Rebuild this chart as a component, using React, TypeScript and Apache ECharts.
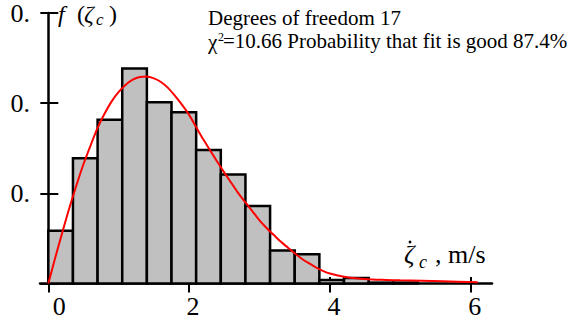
import { useEffect, useRef } from 'react';
import * as echarts from 'echarts';

// Histogram of the measured velocity, bins of equal width starting at 0
const binWidth = 0.35;
const binHeights = [
  0.117, 0.278, 0.363, 0.477, 0.402, 0.38, 0.296, 0.242, 0.172, 0.073, 0.065,
  0.008, 0.012, 0.002, 0.002,
];

// Fitted probability density
const fitZeta = [
  0, 0.1, 0.2, 0.3, 0.4, 0.5, 0.6, 0.7, 0.8, 0.9, 1.0, 1.1, 1.2, 1.3, 1.4, 1.5,
  1.6, 1.7, 1.8, 1.9, 2.0, 2.1, 2.2, 2.3, 2.4, 2.5, 2.6, 2.7, 2.8, 2.9, 3.0,
  3.1, 3.2, 3.3, 3.4, 3.5, 3.6, 3.7, 3.8, 3.9, 4.0, 4.2, 4.4, 4.6, 4.8, 5.0,
  5.3, 5.6, 6.1,
];
const fitDensity = [
  0, 0.058, 0.114, 0.168, 0.218, 0.265, 0.306, 0.345, 0.377, 0.404, 0.425,
  0.441, 0.452, 0.458, 0.459, 0.455, 0.447, 0.434, 0.416, 0.396, 0.374, 0.347,
  0.32, 0.295, 0.27, 0.246, 0.223, 0.2, 0.18, 0.16, 0.14, 0.123, 0.108, 0.093,
  0.08, 0.067, 0.055, 0.045, 0.036, 0.028, 0.022, 0.015, 0.011, 0.009, 0.008,
  0.007, 0.006, 0.005, 0.003,
];

const xTicks = [0, 2, 4, 6];
const xTickLabels = ['0', '2', '4', '6'];
const yTicks = [0, 0.2, 0.4, 0.6];
const yTickLabels = ['', '0.', '0.', '0.'];

const statsLine1 = 'Degrees of freedom 17';
const chiSquare = '10.66';
const fitProbability = '87.4%';

const SERIF = 'Liberation Serif';
const TICK_SIZE = 26;
const NOTE_SIZE = 21;

export default function App() {
  const ref = useRef<HTMLDivElement>(null);

  useEffect(() => {
    if (!ref.current) return;
    const chart = echarts.init(ref.current, undefined, { renderer: 'svg' });

    const bars = binHeights.map((h, i) => [i * binWidth, (i + 1) * binWidth, h]);
    const curve = fitZeta.map((z, i) => [z, fitDensity[i]]);

    const xLabel = (v: number) => {
      const i = xTicks.findIndex((t) => Math.abs(t - v) < 1e-6);
      return i < 0 ? '' : xTickLabels[i];
    };
    const yLabel = (v: number) => {
      const i = yTicks.findIndex((t) => Math.abs(t - v) < 1e-6);
      return i < 0 ? '' : yTickLabels[i];
    };

    const xBase = {
      type: 'value' as const,
      min: -0.118,
      max: 6.302,
      position: 'bottom' as const,
      splitLine: { show: false },
    };
    const yBase = {
      type: 'value' as const,
      min: 0,
      max: 0.6,
      interval: 0.2,
      position: 'left' as const,
      splitLine: { show: false },
    };
    const tickLabelStyle = {
      color: '#000',
      fontSize: TICK_SIZE,
      fontFamily: SERIF,
    };
    const black = '#000';

    const txt = (
      text: string,
      x: number,
      y: number,
      fontSize: number,
      italic = false,
    ) => ({
      type: 'text',
      x,
      y,
      style: {
        text,
        fontSize,
        fontFamily: SERIF,
        fontStyle: italic ? 'italic' : 'normal',
        fill: black,
        align: 'left',
        verticalAlign: 'middle',
      },
    });

    chart.setOption({
      animation: false,
      backgroundColor: '#ffffff',
      textStyle: { fontFamily: SERIF },
      grid: { left: 40, right: 82, top: 13, bottom: 38.5, outerBoundsMode: 'none' },
      xAxis: [
        {
          ...xBase,
          axisLine: { onZero: true, lineStyle: { color: black, width: 2.5 } },
          axisTick: {
            show: true,
            customValues: xTicks,
            length: 9,
            lineStyle: { color: black, width: 2 },
          },
          axisLabel: {
            ...tickLabelStyle,
            customValues: xTicks.slice(1),
            margin: 10,
            padding: [0, 0, 0, 8],
            formatter: xLabel,
          },
        },
        {
          ...xBase,
          axisLine: { show: false },
          axisTick: {
            show: true,
            inside: true,
            customValues: xTicks,
            length: 6.5,
            lineStyle: { color: black, width: 2 },
          },
          // the origin label sits a little further right of its tick
          axisLabel: {
            ...tickLabelStyle,
            customValues: xTicks.slice(0, 1),
            margin: 10,
            padding: [0, 0, 0, 22],
            formatter: xLabel,
          },
        },
      ],
      yAxis: [
        {
          ...yBase,
          axisLine: { onZero: true, lineStyle: { color: black, width: 2.5 } },
          axisTick: { show: true, length: 8, lineStyle: { color: black, width: 2 } },
          axisLabel: {
            ...tickLabelStyle,
            margin: 10,
            padding: [6, 0, 0, 0],
            formatter: yLabel,
          },
        },
        {
          ...yBase,
          axisLine: { show: false },
          axisTick: { show: true, inside: true, length: 10, lineStyle: { color: black, width: 2 } },
          axisLabel: { show: false },
        },
      ],
      series: [
        {
          type: 'custom',
          xAxisIndex: 0,
          yAxisIndex: 0,
          data: bars,
          encode: { x: [0, 1], y: 2 },
          renderItem: (_params: any, api: any) => {
            const topLeft = api.coord([api.value(0), api.value(2)]);
            const bottomRight = api.coord([api.value(1), 0]);
            return {
              type: 'rect',
              shape: {
                x: topLeft[0],
                y: topLeft[1],
                width: bottomRight[0] - topLeft[0],
                height: bottomRight[1] - topLeft[1],
              },
              style: { fill: '#c0c0c0', stroke: black, lineWidth: 2.5 },
            };
          },
          z: 2,
        },
        {
          type: 'line',
          xAxisIndex: 0,
          yAxisIndex: 0,
          data: curve,
          smooth: 0.3,
          showSymbol: false,
          lineStyle: { color: '#ff0000', width: 2 },
          z: 3,
        },
      ],
      graphic: [
        // vertical axis title  f(ζ_c)
        txt('f', 58, 14, 24, true),
        txt('(', 77, 14, 24),
        txt('ζ', 84, 14, 24, true),
        txt('c', 96, 19, 17, true),
        txt(')', 109, 14, 24),
        // horizontal axis title  ζ̇_c , m/s
        txt('ζ', 404, 254, 26, true),
        txt('c', 419, 262, 18, true),
        txt(', m/s', 435, 254, 26),
        {
          // time-derivative dot over the velocity symbol
          type: 'circle',
          shape: { cx: 410, cy: 242, r: 1.4 },
          style: { fill: black },
        },
        // goodness-of-fit notes
        txt(statsLine1, 208, 18, NOTE_SIZE),
        txt('χ', 208, 41.5, NOTE_SIZE),
        txt('2', 218, 37, 12),
        txt(`=${chiSquare} Probability that fit is good ${fitProbability}`, 223, 41, NOTE_SIZE),
      ],
    });

    return () => chart.dispose();
  }, []);

  return (
    <div
      ref={ref}
      style={{ position: 'absolute', left: 0, top: 0, width: 574, height: 322, background: '#fff' }}
    />
  );
}
